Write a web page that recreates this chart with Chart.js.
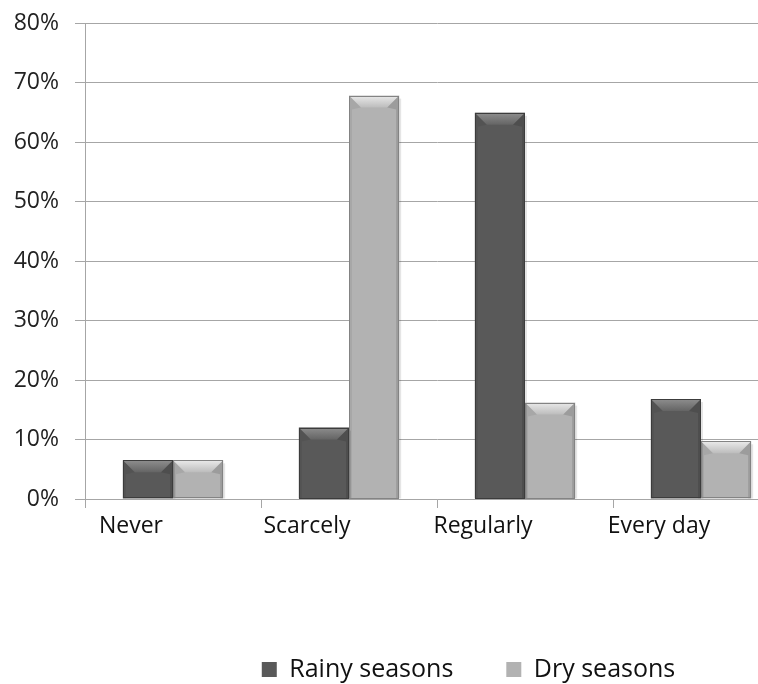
<!DOCTYPE html>
<html>
<head>
<meta charset="utf-8">
<script src="https://cdn.jsdelivr.net/npm/chart.js@4/dist/chart.umd.min.js"></script>
<style>
  html, body { margin: 0; padding: 0; background: #fff; overflow: hidden; }
  #wrap { position: relative; width: 790px; height: 684px; }
</style>
</head>
<body>
<div id="wrap"><canvas id="c"></canvas></div>
<script>
const categories = ['Never', 'Scarcely', 'Regularly', 'Every day'];
const rainySeasons = [6.5, 12.0, 64.9, 16.8];
const drySeasons = [6.5, 67.8, 16.2, 9.7];
const seriesNames = ['Rainy seasons', 'Dry seasons'];
const yMin = 0, yMax = 80, yStep = 10;

const FONT = '"Open Sans", "Noto Sans", sans-serif';
const GRID = '#a6a6a6';

const bevelPlugin = {
  id: 'bevel',
  afterDatasetsDraw(chart) {
    const ctx = chart.ctx;
    const styles = [
      { light: '#8e8e8e', mid: '#646464', edge: '#3c3c3c' },
      { light: '#eaeaea', mid: '#bcbcbc', edge: '#838383' }
    ];
    chart.data.datasets.forEach((ds, di) => {
      const meta = chart.getDatasetMeta(di);
      const st = styles[di];
      meta.data.forEach(bar => {
        const l = bar.x - bar.width / 2, r = bar.x + bar.width / 2;
        const t = bar.y, b = bar.base;
        const h = b - t;
        const bt = Math.min(12, h / 2), bs = Math.min(12, bar.width / 4);
        ctx.save();
        ctx.fillStyle = 'rgba(0,0,0,0.10)';
        ctx.fillRect(r, t + 3, 2, h - 3);
        const g = ctx.createLinearGradient(0, t, 0, t + bt);
        g.addColorStop(0, st.light);
        g.addColorStop(1, st.mid);
        ctx.fillStyle = g;
        ctx.beginPath();
        ctx.moveTo(l, t); ctx.lineTo(r, t);
        ctx.lineTo(r - bs, t + bt); ctx.lineTo(l + bs, t + bt);
        ctx.closePath(); ctx.fill();
        ctx.fillStyle = 'rgba(0,0,0,0.12)';
        ctx.beginPath();
        ctx.moveTo(r, t); ctx.lineTo(r - bs, t + bt); ctx.lineTo(r - 3, t + bt + 2);
        ctx.lineTo(r - 3, b); ctx.lineTo(r, b); ctx.closePath(); ctx.fill();
        ctx.fillStyle = 'rgba(0,0,0,0.06)';
        ctx.beginPath();
        ctx.moveTo(l, t); ctx.lineTo(l + bs, t + bt); ctx.lineTo(l + 3, t + bt + 2);
        ctx.lineTo(l + 3, b); ctx.lineTo(l, b); ctx.closePath(); ctx.fill();
        ctx.strokeStyle = st.edge;
        ctx.lineWidth = 1;
        ctx.strokeRect(Math.round(l) + 0.5, Math.round(t) + 0.5, Math.round(r - l) - 1, Math.round(b - t) - 1);
        ctx.restore();
      });
    });
  }
};

const legendFitPlugin = {
  id: 'legendFit',
  beforeInit(chart) {
    const lg = chart.legend;
    const orig = lg.fit;
    lg.fit = function () {
      orig.call(this);
      this.height = 80;
    };
  },
  afterLayout(chart) {
    const lg = chart.legend;
    lg.left += 74;
    lg.right += 74;
  }
};

new Chart(document.getElementById('c'), {
  type: 'bar',
  data: {
    labels: categories,
    datasets: [
      { label: seriesNames[0], data: rainySeasons, backgroundColor: '#595959', borderWidth: 0 },
      { label: seriesNames[1], data: drySeasons, backgroundColor: '#b2b2b2', borderWidth: 0 }
    ]
  },
  options: {
    responsive: true,
    maintainAspectRatio: false,
    animation: false,
    devicePixelRatio: 1,
    layout: { padding: { top: 23, right: 1, left: 0, bottom: 0 } },
    datasets: { bar: { categoryPercentage: 0.57, barPercentage: 1.0 } },
    scales: {
      x: {
        offset: true,
        grid: { offset: true, drawOnChartArea: false, drawTicks: true, tickLength: 9, color: GRID },
        border: { color: GRID },
        ticks: { font: { family: FONT, size: 23 }, color: '#111', padding: 5, labelOffset: -42, maxRotation: 0 },
        afterFit(s) { s.height = 105; }
      },
      y: {
        min: yMin, max: yMax,
        grid: { color: GRID, tickLength: 10 },
        border: { color: GRID },
        ticks: {
          stepSize: yStep,
          font: { family: FONT, size: 23 },
          color: '#222',
          padding: 16,
          callback: v => v + '%'
        },
        afterFit(s) { s.width = 85; s.paddingTop = 0; s.paddingBottom = 0; }
      }
    },
    plugins: {
      tooltip: { enabled: false },
      legend: {
        position: 'bottom',
        labels: {
          font: { family: FONT, size: 25 },
          color: '#111',
          boxWidth: 15, boxHeight: 15,
          padding: 53
        }
      }
    }
  },
  plugins: [bevelPlugin, legendFitPlugin]
});
</script>
</body>
</html>
